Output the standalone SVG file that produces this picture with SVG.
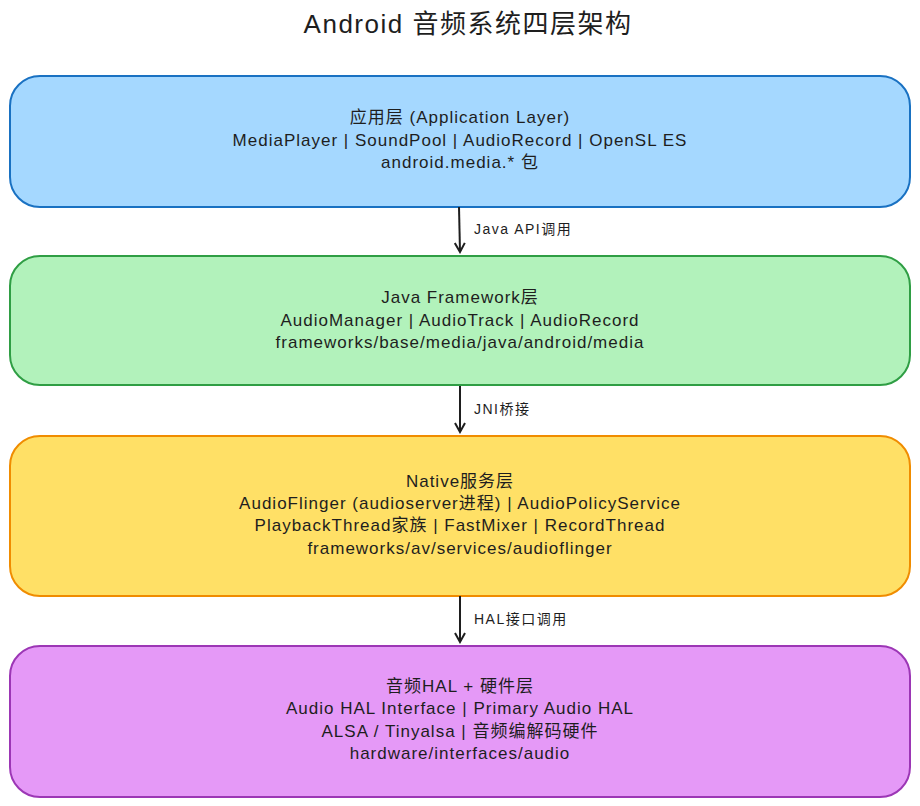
<svg xmlns="http://www.w3.org/2000/svg" width="920" height="806" viewBox="0 0 920 806">
<defs>
<style>
text{font-family:"Comic Sans MS","Liberation Sans","Noto Sans CJK SC",sans-serif;fill:#1e1e1e;text-anchor:middle}
.t{font-size:17px;letter-spacing:1px}
.l{font-size:14px;letter-spacing:1.5px;text-anchor:start}
.b{stroke-width:2}
.c{stroke:#1e1e1e;stroke-width:2;fill:none}
</style>
<marker id="a" viewBox="0 0 12 12" refX="10" refY="6" markerWidth="12" markerHeight="12" orient="auto" markerUnits="userSpaceOnUse">
<path d="M1,1 L10,6 L1,11" fill="none" stroke="#1e1e1e" stroke-width="2"/>
</marker>
</defs>
<rect width="920" height="806" fill="#fff"/>
<text x="468" y="33" font-size="26" letter-spacing="1.5">Android 音频系统四层架构</text>
<g id="n1"><rect class="b" x="10" y="76" width="900" height="131" rx="30" fill="#a5d8ff" stroke="#1971c2"/>
<text class="t" x="460" y="123">应用层 (Application Layer)</text>
<text class="t" x="460" y="146">MediaPlayer | SoundPool | AudioRecord | OpenSL ES</text>
<text class="t" x="460" y="168">android.media.* 包</text></g>
<g id="n2"><rect class="b" x="10" y="256" width="900" height="129" rx="30" fill="#b2f2bb" stroke="#2f9e44"/>
<text class="t" x="460" y="303">Java Framework层</text>
<text class="t" x="460" y="326">AudioManager | AudioTrack | AudioRecord</text>
<text class="t" x="460" y="348">frameworks/base/media/java/android/media</text></g>
<g id="n3"><rect class="b" x="10" y="436" width="900" height="160" rx="30" fill="#ffe066" stroke="#f08c00"/>
<text class="t" x="460" y="487">Native服务层</text>
<text class="t" x="460" y="509">AudioFlinger (audioserver进程) | AudioPolicyService</text>
<text class="t" x="460" y="531">PlaybackThread家族 | FastMixer | RecordThread</text>
<text class="t" x="460" y="554">frameworks/av/services/audioflinger</text></g>
<g id="n4"><rect class="b" x="10" y="646" width="900" height="151" rx="30" fill="#e599f7" stroke="#9c36b5"/>
<text class="t" x="460" y="692">音频HAL + 硬件层</text>
<text class="t" x="460" y="714">Audio HAL Interface | Primary Audio HAL</text>
<text class="t" x="460" y="737">ALSA / Tinyalsa | 音频编解码硬件</text>
<text class="t" x="460" y="759">hardware/interfaces/audio</text></g>
<g id="connectors">
<path class="c" d="M459,207 L460,252" marker-end="url(#a)"/>
<path class="c" d="M460,386 L460,432" marker-end="url(#a)"/>
<path class="c" d="M460,596 L460,642" marker-end="url(#a)"/>
<text class="l" x="474" y="234">Java API调用</text>
<text class="l" x="474" y="414">JNI桥接</text>
<text class="l" x="474" y="624">HAL接口调用</text>
</g>
</svg>
